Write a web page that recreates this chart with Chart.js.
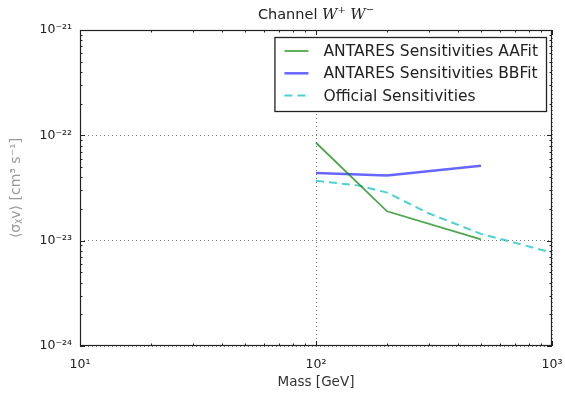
<!DOCTYPE html>
<html>
<head>
<meta charset="utf-8">
<script src="https://cdn.jsdelivr.net/npm/chart.js@4.4.1/dist/chart.umd.min.js"></script>
<style>
  html, body { margin: 0; padding: 0; background: #fff; }
  #wrap { width: 565px; height: 395px; }
</style>
</head>
<body>
<div id="wrap"><canvas id="chart" width="565" height="395"></canvas></div>
<script>
// masses [GeV] and sensitivities <sigma v> [cm^3 s^-1]
const aafitMass = [100, 200, 500];
const aafitSens = [8.5e-23, 1.9e-23, 1.03e-23];

const bbfitMass = [100, 200, 500];
const bbfitSens = [4.4e-23, 4.15e-23, 5.15e-23];

const officialMass = [100, 150, 200, 300, 500, 1000];
const officialSens = [3.7e-23, 3.35e-23, 2.86e-23, 1.82e-23, 1.16e-23, 7.7e-24];

const seriesNames = ['ANTARES Sensitivities AAFit', 'ANTARES Sensitivities BBFit', 'Official Sensitivities'];

const xTicks = [10, 100, 1000];
const yTicks = [1e-24, 1e-23, 1e-22, 1e-21];

const supMap = { '0': '⁰', '1': '¹', '2': '²', '3': '³', '4': '⁴', '5': '⁵', '6': '⁶', '7': '⁷', '8': '⁸', '9': '⁹', '-': '⁻' };
function powLabel(v) {
    const e = String(Math.round(Math.log10(v)));
    return '10' + e.split('').map(c => supMap[c]).join('');
}

function pairs(xs, ys) {
    return xs.map((x, i) => ({ x: x, y: ys[i] }));
}

Chart.defaults.font.family = '"DejaVu Sans", sans-serif';
Chart.defaults.color = '#222';

// title drawn in pieces so the W's can be italic with superscripts
const titlePlugin = {
    id: 'titlePlugin',
    afterDraw(chart) {
        const { ctx, chartArea: a } = chart;
        const parts = [
            { t: 'Channel ', f: '14.5px "DejaVu Sans"', dy: 0 },
            { t: 'W', f: 'italic 15px "DejaVu Serif"', dy: 0 },
            { t: '+', f: '10px "DejaVu Serif"', dy: -6 },
            { t: ' ', f: '14px "DejaVu Sans"', dy: 0 },
            { t: 'W', f: 'italic 15px "DejaVu Serif"', dy: 0 },
            { t: '−', f: '10px "DejaVu Serif"', dy: -6 }
        ];
        ctx.save();
        let total = 0;
        parts.forEach(p => { ctx.font = p.f; p.w = ctx.measureText(p.t).width; total += p.w; });
        let x = (a.left + a.right) / 2 - total / 2;
        ctx.fillStyle = '#222';
        ctx.textBaseline = 'alphabetic';
        parts.forEach(p => {
            ctx.font = p.f;
            ctx.fillText(p.t, x, 19 + p.dy);
            x += p.w;
        });
        ctx.restore();
    }
};

// matplotlib-like frame with inward major/minor ticks on all sides
const framePlugin = {
    id: 'framePlugin',
    afterDraw(chart) {
        const { ctx, chartArea: a, scales } = chart;
        const x = scales.x, y = scales.y;
        ctx.save();
        ctx.strokeStyle = '#222';
        ctx.lineWidth = 1;
        ctx.beginPath();
        for (let e = 1; e <= 3; e++) {
            for (let m = 1; m <= 9; m++) {
                const v = m * Math.pow(10, e);
                if (v > 1000) break;
                const px = Math.round(x.getPixelForValue(v)) + 0.5;
                const len = m === 1 ? 5 : 2.5;
                ctx.moveTo(px, a.bottom); ctx.lineTo(px, a.bottom - len);
                ctx.moveTo(px, a.top); ctx.lineTo(px, a.top + len);
            }
        }
        for (let e = -24; e <= -21; e++) {
            for (let m = 1; m <= 9; m++) {
                if (e === -21 && m > 1) break;
                const py = Math.round(y.getPixelForValue(m * Math.pow(10, e))) + 0.5;
                const len = m === 1 ? 5 : 2.5;
                ctx.moveTo(a.left, py); ctx.lineTo(a.left + len, py);
                ctx.moveTo(a.right, py); ctx.lineTo(a.right - len, py);
            }
        }
        ctx.stroke();
        ctx.lineWidth = 1.2;
        ctx.strokeRect(a.left + 0.5, a.top + 0.5, a.right - a.left - 1, a.bottom - a.top - 1);
        ctx.restore();
    }
};

// boxed legend in the upper right of the plot
const legendPlugin = {
    id: 'legendPlugin',
    afterDraw(chart) {
        const { ctx, chartArea: a } = chart;
        const sets = chart.data.datasets;
        ctx.save();
        ctx.font = '15.5px "DejaVu Sans"';
        let maxW = 0;
        sets.forEach(d => { maxW = Math.max(maxW, ctx.measureText(d.label).width); });
        const w = 10 + 24 + 15 + maxW + 8;
        const h = 74;
        const right = a.right - 6, top = a.top + 7;
        const left = right - w;
        ctx.fillStyle = '#fff';
        ctx.fillRect(left, top, w, h);
        ctx.strokeStyle = '#222';
        ctx.lineWidth = 1.3;
        ctx.strokeRect(left + 0.5, top + 0.5, w, h);
        sets.forEach((d, i) => {
            const cy = top + 14 + i * 22.3;
            ctx.beginPath();
            ctx.strokeStyle = d.borderColor;
            ctx.lineWidth = d.borderWidth;
            ctx.setLineDash(d.borderDash || []);
            ctx.moveTo(left + 10, cy);
            ctx.lineTo(left + 34, cy);
            ctx.stroke();
            ctx.setLineDash([]);
            ctx.fillStyle = '#222';
            ctx.textBaseline = 'middle';
            ctx.fillText(d.label, left + 49, cy + 1);
        });
        ctx.restore();
    }
};

new Chart(document.getElementById('chart'), {
    type: 'line',
    data: {
        datasets: [
            {
                label: seriesNames[0],
                data: pairs(aafitMass, aafitSens),
                borderColor: 'rgba(0,128,0,0.7)',
                borderWidth: 1.8,
                pointRadius: 0
            },
            {
                label: seriesNames[1],
                data: pairs(bbfitMass, bbfitSens),
                borderColor: 'rgba(0,0,255,0.6)',
                borderWidth: 2.5,
                pointRadius: 0
            },
            {
                label: seriesNames[2],
                data: pairs(officialMass, officialSens),
                borderColor: 'rgba(0,191,191,0.7)',
                borderWidth: 2,
                borderDash: [8, 5],
                pointRadius: 0
            }
        ]
    },
    options: {
        responsive: false,
        animation: false,
        devicePixelRatio: 1,
        layout: { padding: { top: 30, right: 13, left: 0, bottom: 0 } },
        plugins: {
            legend: { display: false },
            title: { display: false },
            tooltip: { enabled: false }
        },
        scales: {
            x: {
                type: 'logarithmic',
                min: 10,
                max: 1000,
                afterBuildTicks: s => { s.ticks = xTicks.map(v => ({ value: v })); },
                afterFit: s => { s.height = 49; s.paddingLeft = 0; s.paddingRight = 0; },
                ticks: {
                    autoSkip: false,
                    maxRotation: 0,
                    padding: 11,
                    font: { size: 12.5 },
                    callback: v => powLabel(v)
                },
                grid: { color: '#777', drawTicks: false, lineWidth: 1 },
                border: { display: false, dash: [1, 3] },
                title: {
                    display: true,
                    text: 'Mass [GeV]',
                    color: '#333',
                    font: { size: 13.5 },
                    padding: { top: 4, bottom: 4 }
                }
            },
            y: {
                type: 'logarithmic',
                min: 1e-24,
                max: 1e-21,
                afterBuildTicks: s => { s.ticks = yTicks.map(v => ({ value: v })); },
                afterFit: s => { s.width = 80; s.paddingTop = 0; s.paddingBottom = 0; },
                ticks: {
                    autoSkip: false,
                    padding: 8,
                    font: { size: 12.5 },
                    callback: v => powLabel(v)
                },
                grid: { color: '#777', drawTicks: false, lineWidth: 1 },
                border: { display: false, dash: [1, 3] },
                title: {
                    display: true,
                    text: '⟨σᵪv⟩ [cm³ s⁻¹]',
                    color: '#999',
                    font: { size: 14 },
                    padding: { top: 8, bottom: 4 }
                }
            }
        }
    },
    plugins: [titlePlugin, framePlugin, legendPlugin]
});
</script>
</body>
</html>
